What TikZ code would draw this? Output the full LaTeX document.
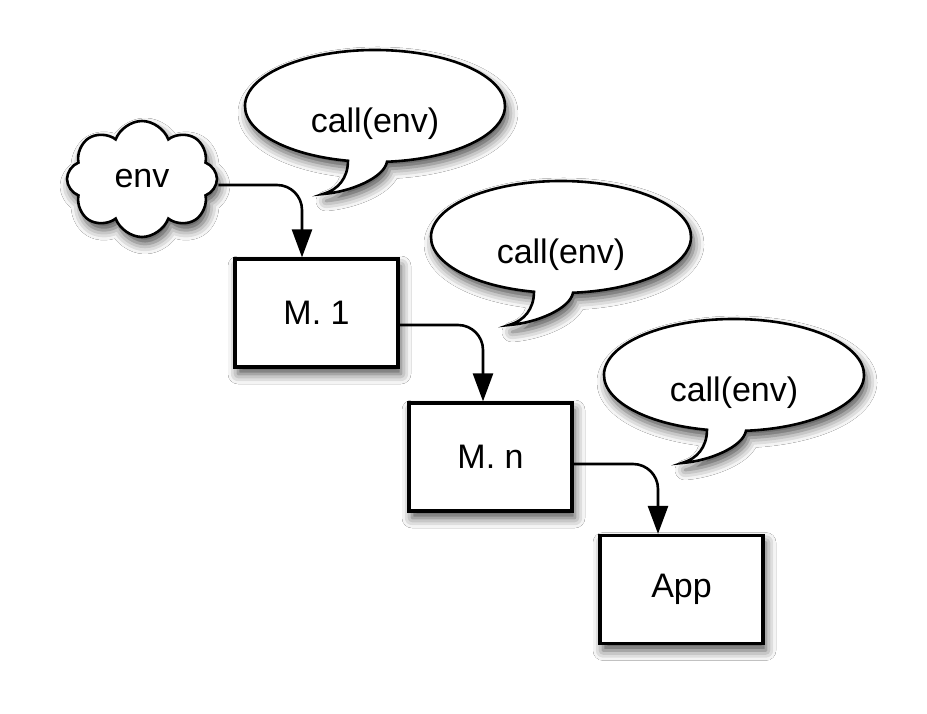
\documentclass[tikz,border=0pt]{standalone}
\usepackage{fontspec}
\setmainfont{Liberation Sans}
\usetikzlibrary{arrows.meta,shapes.symbols,shadows.blur}

\tikzset{
  soft/.style={blur shadow={shadow xshift=3pt, shadow yshift=-7pt,
      shadow blur radius=10pt, shadow opacity=70}},
  label/.style={font=\fontsize{34}{40}\selectfont, inner sep=0pt},
  stage/.style={draw, line width=3.2pt, fill=white, soft,
      minimum width=163pt, minimum height=108pt, inner sep=0pt,
      font=\fontsize{34}{40}\selectfont},
  envcloud/.style={cloud, cloud puffs=8, cloud puff arc=140, cloud ignores aspect,
      draw, line width=2.6pt, fill=white, soft,
      minimum width=150pt, minimum height=116pt, inner sep=0pt,
      font=\fontsize{34}{40}\selectfont},
  bubbleline/.style={draw, line width=2.6pt, fill=white, soft},
  flow/.style={draw, line width=2.6pt, rounded corners=25pt,
      -{Triangle[length=28pt, width=20pt]}},
  callout/.pic={
    \path[bubbleline] (102:130 and 56)
      arc[start angle=102, end angle=444.7, x radius=130, y radius=56]
      .. controls (9,72) and (-25,86) .. (-52,88)
      .. controls (-37,84) and (-27,72) .. (102:130 and 56) -- cycle;
  }
}

\begin{document}
\begin{tikzpicture}[x=1pt, y=-1pt]
  \useasboundingbox[fill=white] (0,0) rectangle (927,714);

  % speech bubbles
  \pic at (375,106) {callout};
  \pic at (561,237) {callout};
  \pic at (734,375) {callout};
  \node[label] (b1) at (375,124) {call(env)};
  \node[label] (b2) at (561,255) {call(env)};
  \node[label] (b3) at (734,393) {call(env)};

  % environment and the chain of stages
  \node[envcloud] (env) at (142,179) {env};
  \node[stage] (m1)  at (316.5,313) {M. 1};
  \node[stage] (mn)  at (490.5,457) {M. n};
  \node[stage] (app) at (681.5,589.5) {App};

  % connectors
  \draw[flow] ([yshift=-6pt]env.east) -| ([xshift=-14.5pt]m1.north);
  \draw[flow] ([yshift=-12pt]m1.east) -| ([xshift=-7.5pt]mn.north);
  \draw[flow] ([yshift=-7pt]mn.east) -| ([xshift=-23.5pt]app.north);
\end{tikzpicture}
\end{document}
